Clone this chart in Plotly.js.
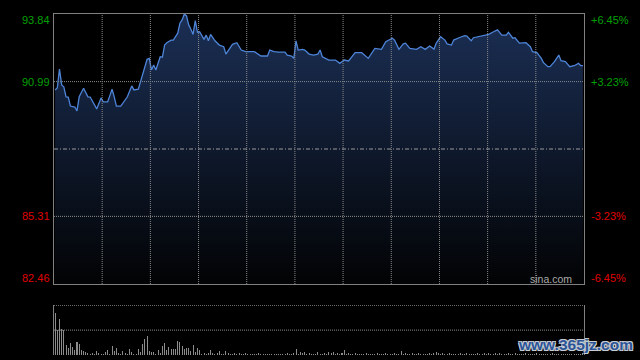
<!DOCTYPE html>
<html><head><meta charset="utf-8">
<script src="https://cdn.plot.ly/plotly-3.0.1.min.js"></script>
<style>html,body{margin:0;padding:0;background:#000;}#chart{width:640px;height:360px;}</style>
</head><body><div id="chart"></div>
<script>
// minute index of each read price point (0 = 9:30 open)
const minutes = [0,1,2,3,4,5,6,7,9,10,11,13,15,16,19,21,22,24,25,26,27,28,30,33,35,36,38,39,40,42,43,44,45,46,48,49,50,51,53,54,56,57,58,59,60,61,62,63,64,65,66,67,68,69,70,71,73,75,77,78,80,81,83,85,87,91,94,97,98,100,102,105,106,108,109,110,111,113,114,116,118,120,121,122,125,128,130,132,134,137,140,143,146,149,151,154,155,157,159,160,162,165,167,169,171,173,174,176,178,179,181,182,185,187,188,190,191,195,197,198,200,202,204,206,207,209,210,212,215,217,218,220,222,223,225,226,228,230,231,233,235,237,239,240,241];
const prices = [90.64,90.72,91.52,90.85,90.76,90.35,90.34,89.96,89.92,89.76,90.35,90.71,90.35,90.34,89.84,90.30,90.14,90.14,90.40,90.67,90.35,89.96,89.96,90.35,90.81,90.64,90.67,90.99,91.20,91.93,91.97,91.48,91.69,91.48,92.04,92.02,92.53,92.63,92.74,92.74,93.03,93.45,93.59,93.84,93.76,93.38,93.20,92.98,93.56,93.07,93.09,92.95,92.77,92.95,92.71,92.98,92.71,92.53,92.46,92.15,92.46,92.56,92.63,92.32,92.25,92.25,92.07,92.07,92.32,92.25,92.23,92.23,92.11,92.07,91.97,92.71,92.32,92.35,92.32,92.15,92.11,92.15,92.32,92.04,91.90,91.90,91.76,91.90,91.86,92.21,92.21,91.97,92.39,92.35,92.67,92.82,92.74,92.35,92.58,92.61,92.39,92.35,92.46,92.35,92.49,92.36,92.61,92.88,92.74,92.58,92.53,92.74,92.86,92.93,92.91,92.71,92.84,92.91,92.95,92.98,93.08,93.17,92.95,92.95,93.07,92.82,92.84,92.61,92.63,92.46,92.25,92.21,91.97,91.79,91.62,91.62,91.83,92.11,91.87,91.83,91.62,91.66,91.76,91.66,91.66];
// per-minute volume (relative units, panel top = 100)
const volumes = [85,51,72,53,50,20,15,25,17,10,27,23,11,9,7,5,2,5,3,8,5,3,2,7,11,3,18,9,15,5,2,8,5,2,12,7,3,2,13,7,22,33,38,8,7,7,3,11,
5,19,25,10,16,12,13,12,28,27,18,13,15,15,8,20,7,15,10,3,5,3,5,10,5,3,5,8,3,2,8,5,3,2,5,3,5,2,3,5,2,3,2,3,2,5,3,3,2,
3,2,3,2,3,2,3,2,3,5,2,3,5,12,3,7,5,7,3,5,3,2,3,7,3,2,5,3,7,5,7,3,5,2,5,10,3,5,2,3,5,2,3,2,3,5,2,3,
3,2,4,3,2,3,4,2,3,2,4,3,2,8,3,4,2,3,4,2,3,4,2,3,2,3,4,3,5,6,5,3,4,2,3,4,2,3,2,3,4,2,3,4,2,3,2,3,4,
3,2,4,3,5,2,3,4,2,5,3,2,3,4,2,3,4,2,3,2,3,4,2,3,2,3,4,2,3,2,3,2,3,4,2,3,2,3,2,3,2,3,2,3,2,3,2,4];
const prevClose = 88.15;
const priceTicks = [93.84, 90.99, 85.31, 82.46];
const priceTickLabels = ['93.84', '90.99', '85.31', '82.46'];
const pctTickLabels = ['+6.45%', '+3.23%', '-3.23%', '-6.45%'];
const volGridLevels = [50, 100];

const volMinutes = volumes.map((v, i) => i);
const GREEN = '#00a000', RED = '#e00000';
const GRID = '#8a8a8a', FRAME = '#808080';
const X0 = -0.5, X1 = 241.5;
const gridX = [];
for (let k = 1; k <= 10; k++) gridX.push(X0 + k * 22);

const traces = [
  {
    type: 'scatter', mode: 'lines', x: minutes, y: prices, xaxis: 'x', yaxis: 'y',
    line: {color: '#4d84d8', width: 1.3},
    fill: 'tozeroy',
    fillgradient: {type: 'vertical', start: 82.46, stop: 93.84,
      colorscale: [[0, '#020304'], [1, '#1b2f55']]},
    hoverinfo: 'skip'
  },
  {
    type: 'bar', x: volMinutes, y: volumes, xaxis: 'x2', yaxis: 'y2',
    width: 0.46, marker: {color: '#8c8c8c', line: {width: 0}}, hoverinfo: 'skip'
  }
];

const dotted = {color: GRID, width: 1, dash: '1px,1px'};
const shapes = [];
gridX.forEach(gx => shapes.push({type: 'line', layer: 'above', xref: 'x', yref: 'y',
  x0: gx, x1: gx, y0: 82.46, y1: 93.84, line: dotted}));
[85.31, 90.99].forEach(gy => shapes.push({type: 'line', layer: 'above', xref: 'paper', yref: 'y',
  x0: 0, x1: 1, y0: gy, y1: gy, line: dotted}));
volGridLevels.forEach(gy => shapes.push({type: 'line', layer: 'above', xref: 'paper', yref: 'y2',
  x0: 0, x1: 1, y0: gy, y1: gy, line: dotted}));
shapes.push({type: 'line', layer: 'above', xref: 'paper', yref: 'y', x0: 0, x1: 1, y0: prevClose, y1: prevClose,
  line: {color: '#9a9a9a', width: 1, dash: '4px,2px,1px,2px'}});

const annotations = [];
priceTicks.forEach((v, i) => {
  const shift = i === 0 ? -6 : (i === priceTicks.length - 1 ? 6 : 0);
  const col = v > prevClose ? GREEN : RED;
  annotations.push({xref: 'paper', yref: 'y', x: 0, y: v, xanchor: 'right', yanchor: 'middle',
    xshift: -2, yshift: shift, showarrow: false, text: priceTickLabels[i],
    font: {family: 'Liberation Sans, Arial, sans-serif', size: 11, color: col}});
  annotations.push({xref: 'paper', yref: 'y', x: 1, y: v, xanchor: 'left', yanchor: 'middle',
    xshift: 5, yshift: shift, showarrow: false, text: pctTickLabels[i],
    font: {family: 'Liberation Sans, Arial, sans-serif', size: 11, color: col}});
});
annotations.push({xref: 'paper', yref: 'y', x: 1, y: 82.46, xanchor: 'right', yanchor: 'middle',
  xshift: -10, yshift: 5, showarrow: false, text: 'sina.com',
  font: {family: 'Liberation Sans, Arial, sans-serif', size: 10.5, color: '#aaaaaa'}});
annotations.push({xref: 'paper', yref: 'paper', x: 0.872, y: 0.03, xanchor: 'left', yanchor: 'middle',
  showarrow: false, text: '<b>www.365jz.com</b>',
  font: {family: 'Liberation Sans, Arial, sans-serif', size: 15.5, color: '#2b5597',
    shadow: '1px 1px 0 #c8ccd4, -1px -1px 0 #c8ccd4, 1px -1px 0 #c8ccd4, -1px 1px 0 #c8ccd4'}});

const layout = {
  width: 640, height: 360,
  paper_bgcolor: '#000', plot_bgcolor: '#000',
  margin: {l: 54, r: 56, t: 14, b: 5, pad: 0},
  showlegend: false,
  xaxis: {domain: [0, 1], range: [X0, X1], anchor: 'y', showticklabels: false, ticks: '', showgrid: false,
    showline: true, mirror: true, linecolor: FRAME, linewidth: 1, zeroline: false, automargin: false, layer: 'above traces'},
  yaxis: {domain: [0.2082, 1], range: [82.46, 93.84], anchor: 'x', showticklabels: false, ticks: '', showgrid: false,
    showline: true, mirror: true, linecolor: FRAME, linewidth: 1, zeroline: false, automargin: false, layer: 'above traces'},
  xaxis2: {domain: [0, 1], range: [X0, X1], anchor: 'y2', showgrid: false, showticklabels: false,
    ticks: '', showline: false, zeroline: false, automargin: false},
  yaxis2: {domain: [0, 0.1466], range: [0, 100.5], anchor: 'x2', showticklabels: false, ticks: '', showgrid: false,
    showline: true, mirror: true, linecolor: FRAME, linewidth: 1, zeroline: false, automargin: false},
  bargap: 0,
  shapes: shapes,
  annotations: annotations
};

Plotly.newPlot('chart', traces, layout, {displayModeBar: false, staticPlot: true});
</script>
</body></html>
